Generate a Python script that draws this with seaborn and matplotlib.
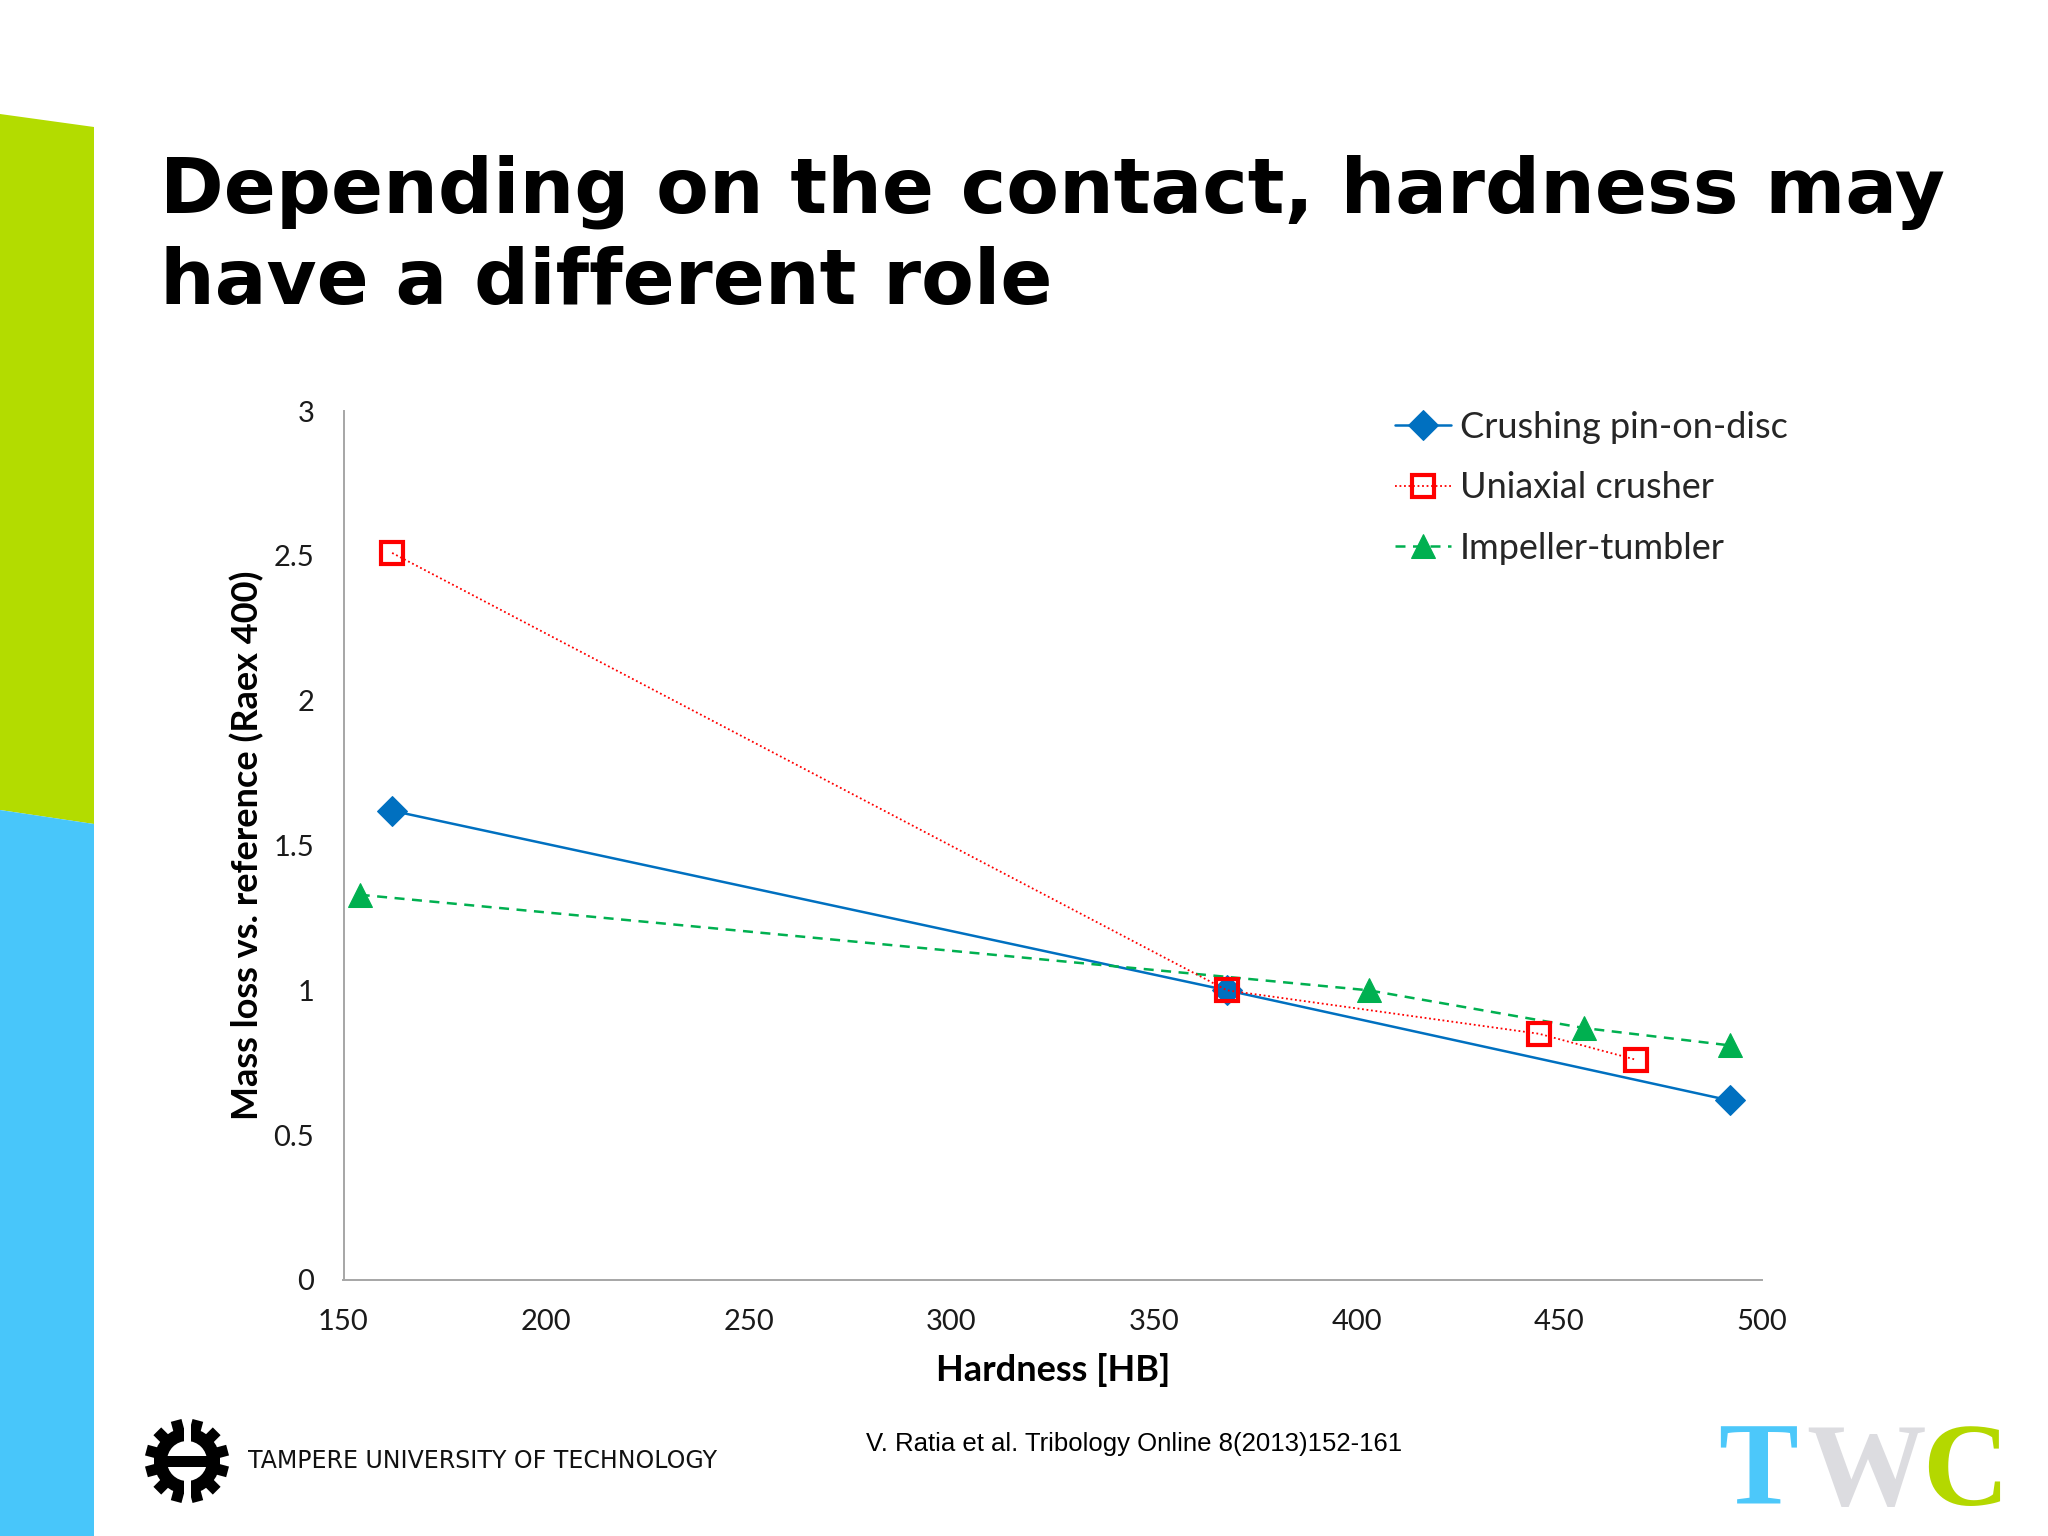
"""
Mass loss vs hardness slide: three wear tests compared against Raex 400
"""

import numpy as np
import pandas as pd
import matplotlib
matplotlib.use('Agg')
import matplotlib.pyplot as plt
from matplotlib.patches import Polygon, Circle, Rectangle
import seaborn as sns

# Data
hardness_pin = [162, 368, 492]
mass_pin = [1.62, 1.00, 0.62]

hardness_crusher = [162, 368, 445, 469]
mass_crusher = [2.51, 1.00, 0.85, 0.76]

hardness_impeller = [154, 403, 456, 492]
mass_impeller = [1.33, 1.00, 0.87, 0.81]

x_ticks = [150, 200, 250, 300, 350, 400, 450, 500]
y_ticks = [0, 0.5, 1, 1.5, 2, 2.5, 3]
y_tick_labels = ['0', '0.5', '1', '1.5', '2', '2.5', '3']

TITLE_LINES = ['Depending on the contact, hardness may', 'have a different role']
CITATION = 'V. Ratia et al. Tribology Online 8(2013)152-161'
UNIVERSITY = 'TAMPERE UNIVERSITY OF TECHNOLOGY'

BLUE = '#0070C0'
RED = '#FF0000'
GREEN = '#00B050'
BAR_GREEN = '#B3DC00'
BAR_BLUE = '#48C6FA'

sns.set_theme(style='white')
plt.rcParams['font.family'] = ['Lato', 'DejaVu Sans']

W, H = 2048, 1536
fig = plt.figure(figsize=(W / 100, H / 100), dpi=100, facecolor='white')

# Coloured side bars of the slide template
bg = fig.add_axes([0, 0, 1, 1], zorder=-5)
bg.set_xlim(0, W)
bg.set_ylim(H, 0)
bg.axis('off')
bg.add_patch(Polygon([(0, 114), (94, 127), (94, 824), (0, 810)], closed=True,
                     facecolor=BAR_GREEN, edgecolor='none'))
bg.add_patch(Polygon([(0, 810), (94, 824), (94, H), (0, H)], closed=True,
                     facecolor=BAR_BLUE, edgecolor='none'))

# Title
for i, line in enumerate(TITLE_LINES):
    fig.text(160 / W, 1 - (213 + 91 * i) / H, line, family='DejaVu Sans',
             fontweight='bold', fontsize=55.4, color='black', va='baseline', ha='left')

# Chart
left, right, top, bottom = 343.5, 1762, 411, 1280
ax = fig.add_axes([left / W, 1 - bottom / H, (right - left) / W, (bottom - top) / H])

df_pin = pd.DataFrame({'Hardness': hardness_pin, 'Mass': mass_pin})
df_crusher = pd.DataFrame({'Hardness': hardness_crusher, 'Mass': mass_crusher})
df_impeller = pd.DataFrame({'Hardness': hardness_impeller, 'Mass': mass_impeller})

sns.lineplot(data=df_pin, x='Hardness', y='Mass', ax=ax, color=BLUE, linewidth=1.8,
             marker='D', markersize=15, markeredgecolor=BLUE, markerfacecolor=BLUE,
             label='Crushing pin-on-disc', sort=False, zorder=3)
sns.lineplot(data=df_crusher, x='Hardness', y='Mass', ax=ax, color=RED, linewidth=1.3,
             linestyle=(0, (1, 1.5)), marker='s', markersize=16.5, markeredgewidth=3,
             markeredgecolor=RED, markerfacecolor='none',
             label='Uniaxial crusher', sort=False, zorder=4)
sns.lineplot(data=df_impeller, x='Hardness', y='Mass', ax=ax, color=GREEN, linewidth=1.8,
             linestyle=(0, (4, 3)), marker='^', markersize=17, markeredgecolor=GREEN,
             markerfacecolor=GREEN, label='Impeller-tumbler', sort=False, zorder=3)

ax.set_xlim(150, 500)
ax.set_ylim(0, 3)
ax.set_xticks(x_ticks)
ax.set_yticks(y_ticks)
ax.set_yticklabels(y_tick_labels)
ax.tick_params(axis='both', length=0, pad=21, labelsize=21, labelcolor='#1a1a1a')
for side in ['top', 'right']:
    ax.spines[side].set_visible(False)
for side in ['left', 'bottom']:
    ax.spines[side].set_color('#A6A6A6')
    ax.spines[side].set_linewidth(1.4)
ax.set_facecolor('white')
ax.grid(False)

ax.set_xlabel('Hardness [HB]', fontsize=26, fontweight='bold', color='black')
ax.set_ylabel('Mass loss vs. reference (Raex 400)', fontsize=26, fontweight='bold', color='black')
ax.xaxis.set_label_coords(0.5, -0.084)
ax.yaxis.set_label_coords(-0.056, 0.5)

ax.legend(loc='upper left', bbox_to_anchor=(1395 / W, 1 - 411 / H),
          bbox_transform=fig.transFigure, frameon=False, fontsize=26,
          borderpad=0, borderaxespad=0, handlelength=1.55, handletextpad=0.25,
          labelspacing=0.76)

# Footer: gear logo
gx, gy = 187, 1461
for k in range(12):
    ang = np.deg2rad(k * 30 + 15)
    tooth = Rectangle((-5.5, 28), 11, 14, facecolor='black', edgecolor='none',
                      transform=matplotlib.transforms.Affine2D().rotate(ang - np.pi / 2)
                      .translate(gx, gy) + bg.transData)
    bg.add_patch(tooth)
bg.add_patch(Circle((gx, gy), 33, facecolor='black', edgecolor='none'))
bg.add_patch(Circle((gx, gy), 20, facecolor='white', edgecolor='none'))
bg.add_patch(Rectangle((gx - 33, gy - 5.5), 66, 11, facecolor='black', edgecolor='none'))
bg.add_patch(Rectangle((gx - 3.5, gy - 44), 7, 26, facecolor='white', edgecolor='none'))
bg.add_patch(Rectangle((gx - 3.5, gy + 18), 7, 26, facecolor='white', edgecolor='none'))

fig.text(248 / W, 1 - 1461 / H, UNIVERSITY, family='DejaVu Sans', fontsize=17,
         color='#111111', va='center', ha='left')

fig.text(866 / W, 1 - 1444 / H, CITATION, family='Liberation Sans', fontsize=18.5,
         color='black', va='center', ha='left')

# TWC mark
for letter, x0, col in [('T', 1718, '#4CC8FA'), ('W', 1806, '#DCDCE0'), ('C', 1922, '#B4D800')]:
    fig.text(x0 / W, 1 - 1505 / H, letter, family='Liberation Serif', fontweight='bold',
             fontsize=86, color=col, va='baseline', ha='left')

plt.savefig('out.png', dpi=100, facecolor='white')
